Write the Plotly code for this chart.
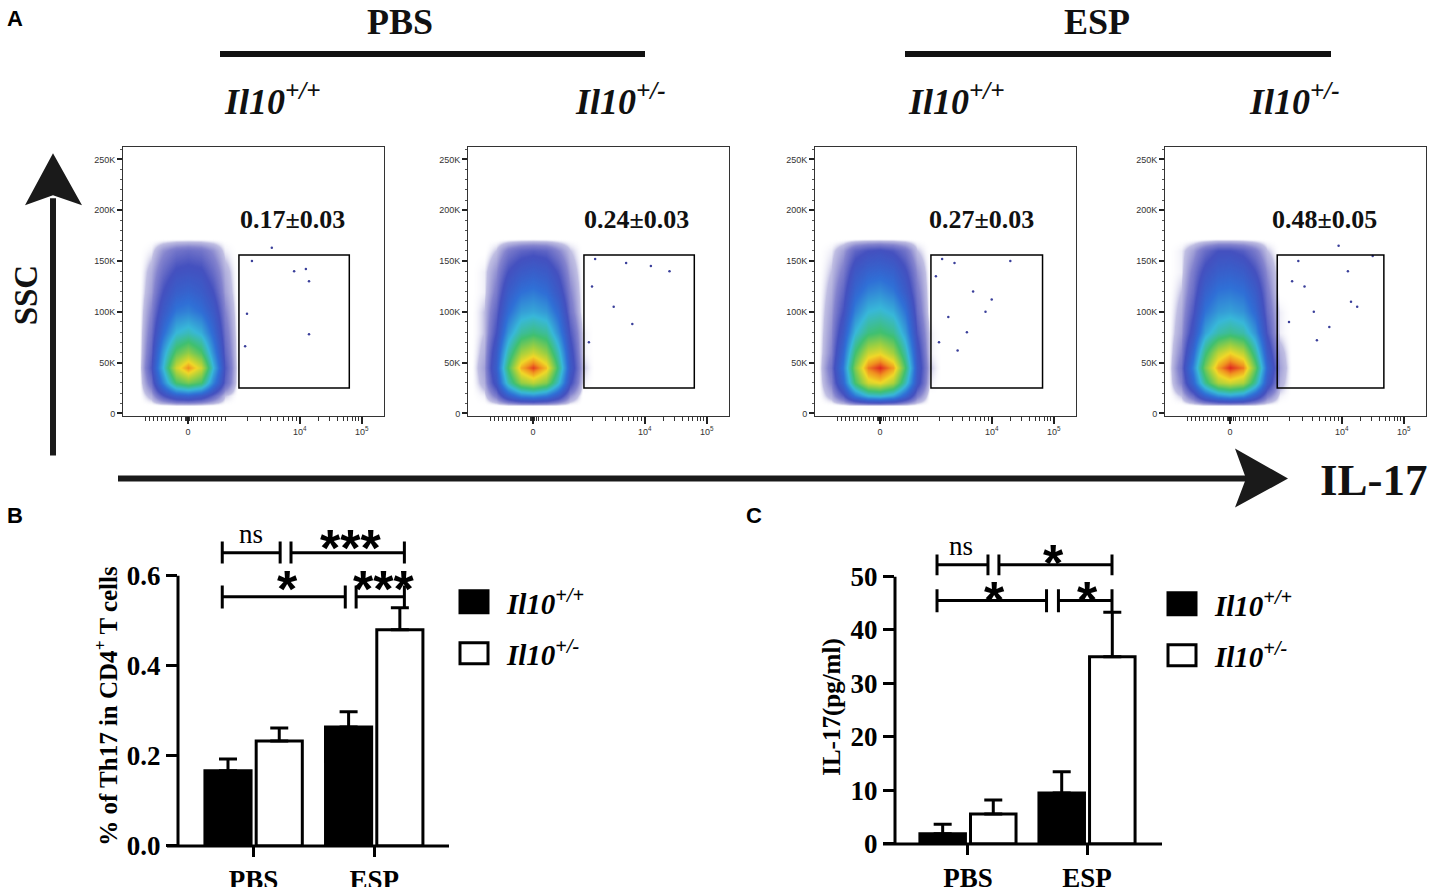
import numpy as np
import plotly.graph_objects as go

# positions below are in reference-picture pixels (1431 x 887); the figure is drawn a
# little taller because the photographed page comes back squeezed to 887 rows
W, H = 1431, 887
FIG_H = 903


def px(x):
    return min(1.0, max(0.0, x / W))


def py(y):
    return min(1.0, max(0.0, 1 - y / H))


# ---- panel A: flow plots (SSC vs IL-17), density ----
grid_x = [-1.0, -0.8, -0.6, -0.4, -0.2, 0.0, 0.2, 0.4, 0.6, 0.8, 1.0]
grid_y = [8, 18, 30, 45, 60, 80, 100, 120, 140, 160, 172]

zero_row = [0] * 11
dens_pbs_wt = [
    zero_row,
    [0, 0, 0.03, 0.12, 0.2, 0.22, 0.18, 0.1, 0.02, 0, 0],
    [0, 0, 0.08, 0.3, 0.55, 0.62, 0.55, 0.3, 0.1, 0, 0],
    [0, 0, 0.12, 0.4, 0.75, 0.9, 0.75, 0.4, 0.12, 0, 0],
    [0, 0, 0.1, 0.35, 0.58, 0.66, 0.56, 0.32, 0.1, 0, 0],
    [0, 0, 0.08, 0.25, 0.4, 0.44, 0.38, 0.24, 0.08, 0, 0],
    [0, 0, 0.06, 0.18, 0.28, 0.3, 0.26, 0.18, 0.06, 0, 0],
    [0, 0, 0.04, 0.13, 0.2, 0.22, 0.19, 0.13, 0.04, 0, 0],
    [0, 0, 0.03, 0.09, 0.14, 0.15, 0.14, 0.09, 0.03, 0, 0],
    [0, 0, 0.01, 0.05, 0.08, 0.09, 0.08, 0.05, 0.01, 0, 0],
    zero_row,
]
dens_pbs_het = [
    zero_row,
    [0, 0.01, 0.07, 0.2, 0.3, 0.32, 0.28, 0.18, 0.05, 0, 0],
    [0, 0.03, 0.16, 0.45, 0.66, 0.72, 0.64, 0.42, 0.14, 0.01, 0],
    [0, 0.04, 0.2, 0.55, 0.86, 0.98, 0.84, 0.52, 0.18, 0.02, 0],
    [0, 0.03, 0.18, 0.46, 0.68, 0.75, 0.66, 0.44, 0.16, 0.01, 0],
    [0, 0.02, 0.13, 0.34, 0.48, 0.52, 0.48, 0.32, 0.12, 0.01, 0],
    [0, 0.02, 0.1, 0.25, 0.35, 0.37, 0.34, 0.24, 0.08, 0, 0],
    [0, 0.01, 0.07, 0.19, 0.26, 0.28, 0.25, 0.17, 0.06, 0, 0],
    [0, 0.01, 0.05, 0.13, 0.18, 0.2, 0.18, 0.12, 0.04, 0, 0],
    [0, 0, 0.02, 0.07, 0.1, 0.11, 0.1, 0.06, 0.02, 0, 0],
    zero_row,
]
dens_esp_wt = [
    zero_row,
    [0, 0.03, 0.11, 0.28, 0.4, 0.42, 0.36, 0.22, 0.07, 0, 0],
    [0, 0.06, 0.23, 0.55, 0.76, 0.8, 0.7, 0.45, 0.16, 0.01, 0],
    [0, 0.08, 0.28, 0.64, 0.92, 1.0, 0.88, 0.55, 0.18, 0.02, 0],
    [0, 0.06, 0.24, 0.54, 0.74, 0.78, 0.68, 0.46, 0.16, 0.01, 0],
    [0, 0.05, 0.18, 0.4, 0.52, 0.55, 0.5, 0.35, 0.12, 0.01, 0],
    [0, 0.04, 0.13, 0.3, 0.4, 0.42, 0.38, 0.27, 0.09, 0, 0],
    [0, 0.03, 0.1, 0.23, 0.3, 0.32, 0.28, 0.19, 0.07, 0, 0],
    [0, 0.02, 0.07, 0.17, 0.22, 0.23, 0.21, 0.14, 0.05, 0, 0],
    [0, 0.01, 0.04, 0.1, 0.13, 0.14, 0.12, 0.08, 0.02, 0, 0],
    zero_row,
]
dens_esp_het = [
    zero_row,
    [0, 0.02, 0.09, 0.22, 0.32, 0.36, 0.32, 0.2, 0.07, 0.01, 0],
    [0, 0.06, 0.23, 0.5, 0.7, 0.75, 0.7, 0.48, 0.18, 0.03, 0],
    [0, 0.08, 0.3, 0.62, 0.88, 1.0, 0.92, 0.6, 0.23, 0.04, 0],
    [0, 0.06, 0.24, 0.52, 0.72, 0.8, 0.72, 0.48, 0.18, 0.03, 0],
    [0, 0.04, 0.16, 0.36, 0.46, 0.5, 0.46, 0.33, 0.12, 0.01, 0],
    [0, 0.03, 0.12, 0.27, 0.34, 0.36, 0.33, 0.24, 0.09, 0.01, 0],
    [0, 0.02, 0.09, 0.21, 0.27, 0.28, 0.26, 0.19, 0.07, 0, 0],
    [0, 0.01, 0.07, 0.15, 0.2, 0.21, 0.19, 0.13, 0.05, 0, 0],
    [0, 0.01, 0.04, 0.09, 0.13, 0.13, 0.11, 0.07, 0.02, 0, 0],
    zero_row,
]
densities = [dens_pbs_wt, dens_pbs_het, dens_esp_wt, dens_esp_het]

# stray events inside / near the gate
gate_pts_x = [
    [1.03, 1.71, 1.9, 1.95, 1.95, 0.92, 0.95, 1.35],
    [1.0, 1.5, 1.9, 2.2, 1.3, 0.9, 1.6, 0.95],
    [1.0, 1.2, 1.5, 1.8, 2.1, 1.1, 1.4, 0.9, 1.7, 1.25, 0.95],
    [1.1, 1.35, 1.6, 1.95, 2.05, 1.2, 1.4, 2.3, 0.95, 1.0, 1.75, 1.9],
]
gate_pts_y = [
    [150, 140, 142, 130, 78, 66, 98, 163],
    [152, 148, 145, 140, 105, 70, 88, 125],
    [152, 148, 120, 112, 150, 95, 80, 135, 100, 62, 70],
    [150, 100, 85, 110, 105, 125, 72, 155, 90, 130, 165, 140],
]
gate_x = [[0.82, 2.6], [0.82, 2.6], [0.82, 2.62], [0.76, 2.48]]
gate_y = [25, 156]
flow_labels = ["0.17±0.03", "0.24±0.03", "0.27±0.03", "0.48±0.05"]
flow_label_x = [1.69, 1.66, 1.63, 1.53]
flow_label_y = 191

ssc_ticks = [0, 50, 100, 150, 200, 250]
ssc_text = ["0", "50K", "100K", "150K", "200K", "250K"]
il17_ticks = [-0.68, 0, 0.6, 1.8, 2.8]
il17_text = ["", "0", "", "10<sup>4</sup>", "10<sup>5</sup>"]
il17_minor = ([round(-0.68 + i * 0.064, 3) for i in range(21)]
              + [-0.05, -0.03, -0.01, 0.01, 0.03, 0.05]
              + [0.6 + 1.2 * np.log10(k) for k in range(2, 10)]
              + [1.8 + np.log10(k) for k in range(2, 10)])

# ---- panel B / C: bar data ----
groups = ["PBS", "ESP"]
th17_wt = [0.167, 0.264]
th17_wt_err = [0.026, 0.034]
th17_het = [0.233, 0.48]
th17_het_err = [0.029, 0.049]

il17_wt = [1.9, 9.5]
il17_wt_err = [1.8, 4.0]
il17_het = [5.6, 35.0]
il17_het_err = [2.6, 8.3]

serif = "Liberation Serif"
sans = "Liberation Sans"

cs = [[0, "rgba(255,255,255,0)"], [0.02, "rgba(45,40,160,0.3)"],
      [0.06, "rgba(40,40,170,0.58)"], [0.13, "rgba(35,50,180,0.85)"],
      [0.26, "#2f6fd6"], [0.4, "#38b8d8"], [0.54, "#40c070"],
      [0.68, "#a0d040"], [0.8, "#f0d828"], [0.9, "#f09020"], [1, "#e02820"]]

fig = go.Figure()
flow_left = [123, 468, 815, 1165]
flow_w = 261
decade_px = 62
shapes = []
annotations = []


def ann(x, y, text, size, family=serif, xref="paper", yref="paper", **kw):
    d = dict(xref=xref, yref=yref, x=x, y=y, text=text, showarrow=False,
             xanchor="center", yanchor="middle",
             font=dict(family=family, size=size, color=kw.pop("color", "#111")))
    d.update(kw)
    annotations.append(d)


for i, left in enumerate(flow_left):
    n = i + 1
    xa = "x" if n == 1 else "x%d" % n
    ya = "y" if n == 1 else "y%d" % n
    right = min(left + flow_w, W)
    fig.add_trace(go.Heatmap(x=grid_x, y=grid_y, z=densities[i], colorscale=cs,
                             zmin=0, zmax=1, zsmooth="best", showscale=False,
                             hoverinfo="skip", xaxis=xa, yaxis=ya))
    fig.add_trace(go.Scatter(x=gate_pts_x[i], y=gate_pts_y[i], mode="markers",
                             marker=dict(size=2.5, color="#3a3f9a"),
                             hoverinfo="skip", showlegend=False, xaxis=xa, yaxis=ya))
    fig.update_layout(**{
        ("xaxis" if n == 1 else "xaxis%d" % n): dict(
            domain=[px(left), px(right)],
            range=[-1.05, -1.05 + (right - left) / decade_px], anchor=ya,
            tickvals=il17_ticks, ticktext=il17_text, ticks="outside", ticklen=7,
            tickwidth=1.5, tickcolor="#222",
            minor=dict(tickvals=il17_minor, ticklen=4, tickwidth=1, tickcolor="#333"),
            showline=True, mirror=True, linecolor="#333", linewidth=1,
            showgrid=False, zeroline=False,
            tickfont=dict(family=sans, size=9, color="#333")),
        ("yaxis" if n == 1 else "yaxis%d" % n): dict(
            domain=[py(416), py(147)], range=[-3, 262], anchor=xa,
            tickvals=ssc_ticks, ticktext=ssc_text, ticks="outside", ticklen=5,
            tickwidth=1.5, tickcolor="#222",
            minor=dict(dtick=10, ticklen=2.5, tickwidth=1, tickcolor="#555"),
            showline=True, mirror=True, linecolor="#333", linewidth=1,
            showgrid=False, zeroline=False,
            tickfont=dict(family=sans, size=9, color="#333")),
    })
    shapes.append(dict(type="rect", xref=xa, yref=ya, x0=gate_x[i][0], x1=gate_x[i][1],
                       y0=gate_y[0], y1=gate_y[1], line=dict(color="black", width=1.5)))
    ann(flow_label_x[i], flow_label_y, "<b>%s</b>" % flow_labels[i], 26, xref=xa, yref=ya)

# ---- bar charts ----
bar_specs = [
    ("x5", "y5", th17_wt, th17_wt_err, th17_het, th17_het_err),
    ("x6", "y6", il17_wt, il17_wt_err, il17_het, il17_het_err),
]
for xa, ya, wt, wt_e, het, het_e in bar_specs:
    fig.add_trace(go.Bar(x=groups, y=wt, name="wt", offsetgroup="wt",
                         marker=dict(color="black", line=dict(color="black", width=3)),
                         error_y=dict(type="data", array=wt_e, arrayminus=[0, 0],
                                      symmetric=False, color="black", thickness=3, width=9),
                         showlegend=False, xaxis=xa, yaxis=ya))
    fig.add_trace(go.Bar(x=groups, y=het, name="het", offsetgroup="het",
                         marker=dict(color="white", line=dict(color="black", width=3)),
                         error_y=dict(type="data", array=het_e, arrayminus=[0, 0],
                                      symmetric=False, color="black", thickness=3, width=9),
                         showlegend=False, xaxis=xa, yaxis=ya))

bar_tickfont = dict(family=serif, size=27, color="black")
fig.update_layout(
    xaxis5=dict(domain=[px(178), px(449)], range=[-0.627, 1.62], anchor="y5",
                tickvals=groups, ticktext=["<b>PBS</b>", "<b>ESP</b>"],
                ticks="outside", ticklen=10, tickwidth=3, tickcolor="black",
                showline=False, showgrid=False, zeroline=False, tickfont=bar_tickfont),
    yaxis5=dict(domain=[py(845), py(521)], range=[0, 0.72], anchor="x5",
                tickvals=[0, 0.2, 0.4, 0.6],
                ticktext=["<b>0.0</b>", "<b>0.2</b>", "<b>0.4</b>", "<b>0.6</b>"],
                ticks="outside", ticklen=11, tickwidth=3, tickcolor="black",
                showline=False, showgrid=False, zeroline=False, tickfont=bar_tickfont),
    xaxis6=dict(domain=[px(895), px(1162)], range=[-0.613, 1.63], anchor="y6",
                tickvals=groups, ticktext=["<b>PBS</b>", "<b>ESP</b>"],
                ticks="outside", ticklen=10, tickwidth=3, tickcolor="black",
                showline=False, showgrid=False, zeroline=False, tickfont=bar_tickfont),
    yaxis6=dict(domain=[py(843), py(533)], range=[0, 58], anchor="x6",
                tickvals=[0, 10, 20, 30, 40, 50],
                ticktext=["<b>%d</b>" % v for v in [0, 10, 20, 30, 40, 50]],
                ticks="outside", ticklen=11, tickwidth=3, tickcolor="black",
                showline=False, showgrid=False, zeroline=False, tickfont=bar_tickfont),
)

# axis lines of the bar charts (Prism style: y line stops at the top tick)
for x0, y0, x1, y1 in [(178, 845, 178, 575), (167, 845, 449, 845),
                       (895, 843, 895, 576), (883, 843, 1162, 843)]:
    shapes.append(dict(type="line", xref="paper", yref="paper", x0=px(x0), y0=py(y0),
                       x1=px(x1), y1=py(y1), line=dict(color="black", width=3)))


def bracket(xa, ya, x0, x1, y, cap_lo, cap_hi):
    for s in [(x0, y, x1, y), (x0, cap_lo, x0, cap_hi), (x1, cap_lo, x1, cap_hi)]:
        shapes.append(dict(type="line", xref=xa, yref=ya, x0=s[0], y0=s[1], x1=s[2], y1=s[3],
                           line=dict(color="black", width=3)))


def sig(xa, ya, x, y, text):
    if text == "ns":
        ann(x, y, "ns", 27, xref=xa, yref=ya, color="black")
    else:
        ann(x, y, "<b>%s</b>" % text, 52, family=sans, xref=xa, yref=ya,
            color="black", yshift=-12)


bracket("x5", "y5", -0.26, 0.22, 0.651, 0.627, 0.676)
bracket("x5", "y5", 0.31, 1.25, 0.651, 0.627, 0.676)
bracket("x5", "y5", -0.26, 0.76, 0.553, 0.527, 0.578)
bracket("x5", "y5", 0.85, 1.25, 0.553, 0.527, 0.578)
sig("x5", "y5", -0.02, 0.693, "ns")
sig("x5", "y5", 0.80, 0.689, "***")
sig("x5", "y5", 0.28, 0.596, "*")
sig("x5", "y5", 1.08, 0.596, "***")

bracket("x6", "y6", -0.26, 0.168, 52.2, 50.2, 54.1)
bracket("x6", "y6", 0.26, 1.21, 52.2, 50.2, 54.1)
bracket("x6", "y6", -0.26, 0.66, 45.5, 43.3, 47.6)
bracket("x6", "y6", 0.76, 1.21, 45.5, 43.3, 47.6)
sig("x6", "y6", -0.06, 55.6, "ns")
sig("x6", "y6", 0.72, 54.7, "*")
sig("x6", "y6", 0.22, 47.8, "*")
sig("x6", "y6", 1.0, 47.8, "*")

# legends of B and C
for lx, ty in [(460, 590), (1168, 592)]:
    shapes.append(dict(type="rect", xref="paper", yref="paper", x0=px(lx), x1=px(lx + 28),
                       y0=py(ty + 22), y1=py(ty), fillcolor="black",
                       line=dict(color="black", width=3)))
    shapes.append(dict(type="rect", xref="paper", yref="paper", x0=px(lx), x1=px(lx + 28),
                       y0=py(ty + 73), y1=py(ty + 52), fillcolor="white",
                       line=dict(color="black", width=3)))
    for dy, sup in [(11, "+/+"), (62, "+/-")]:
        ann(px(lx + 44), py(ty + dy), "<b><i>Il10<sup>%s</sup></i></b>" % sup, 29,
            xanchor="left", color="black")

# ---- headers, arrows and panel letters ----
for cx, label, lx0, lx1 in [(400, "PBS", 220, 645), (1097, "ESP", 905, 1331)]:
    ann(px(cx), py(22), "<b>%s</b>" % label, 36)
    shapes.append(dict(type="line", xref="paper", yref="paper", x0=px(lx0), x1=px(lx1),
                       y0=py(54), y1=py(54), line=dict(color="#111", width=6)))
for lx, sup in [(222, "+/+"), (573, "+/-"), (906, "+/+"), (1247, "+/-")]:
    ann(px(lx), py(99), "<b><i>Il10<sup>%s</sup></i></b>" % sup, 36, xanchor="left")

shapes.append(dict(type="line", xref="paper", yref="paper", x0=px(53), x1=px(53),
                   y0=py(455), y1=py(198), line=dict(color="#1a1a1a", width=6)))
shapes.append(dict(type="path", xref="paper", yref="paper", fillcolor="#1a1a1a",
                   line=dict(width=0),
                   path="M %f %f L %f %f L %f %f L %f %f Z" % (
                       px(53), py(153), px(82), py(205), px(53), py(195), px(25), py(205))))
shapes.append(dict(type="line", xref="paper", yref="paper", x0=px(118), x1=px(1250),
                   y0=py(478), y1=py(478), line=dict(color="#1a1a1a", width=6)))
shapes.append(dict(type="path", xref="paper", yref="paper", fillcolor="#1a1a1a",
                   line=dict(width=0),
                   path="M %f %f L %f %f L %f %f L %f %f Z" % (
                       px(1288), py(478), px(1235), py(507), px(1246), py(478),
                       px(1235), py(448))))

ann(px(26), py(294), "<b>SSC</b>", 33, textangle=-90)
ann(px(1430), py(479), "<b>IL-17</b>", 45, xanchor="right")
ann(px(106), py(705), "<b>% of Th17 in CD4<sup>+</sup> T cells</b>", 25,
    textangle=-90, color="black")
ann(px(832), py(706), "<b>IL-17(pg/ml)</b>", 25, textangle=-90, color="black")
for letter, lx, ly in [("A", 15, 18), ("B", 15, 515), ("C", 754, 515)]:
    ann(px(lx), py(ly), "<b>%s</b>" % letter, 22, family=sans, color="black")

fig.update_layout(
    width=W, height=FIG_H, margin=dict(l=0, r=0, t=0, b=0),
    paper_bgcolor="white", plot_bgcolor="rgba(0,0,0,0)",
    barmode="group", bargap=0.15, bargroupgap=0.1,
    shapes=shapes, annotations=annotations, showlegend=False,
)

page_fix = ("document.documentElement.style.margin='0';"
            "document.documentElement.style.overflow='hidden';"
            "document.body.style.margin='0';"
            "document.body.style.overflow='hidden';")
fig.write_html("out.html", config={"displayModeBar": False}, post_script=page_fix)
